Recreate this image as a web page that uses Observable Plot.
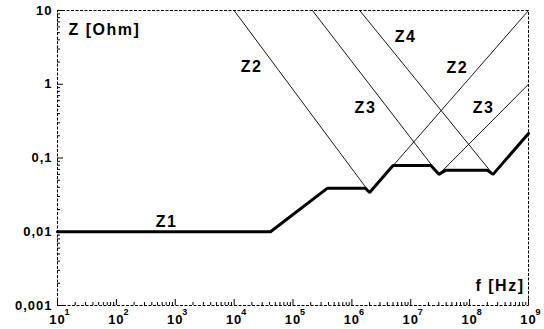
<!DOCTYPE html>
<html><head><meta charset="utf-8">
<script src="https://cdn.jsdelivr.net/npm/d3@7"></script>
<script src="https://cdn.jsdelivr.net/npm/@observablehq/plot@0.6"></script>
<style>
body{margin:0;background:#fff;}
svg text{letter-spacing:1px;}
svg g.biglabel text{letter-spacing:1.5px;}
</style></head><body><div id="chart"></div>
<script>
// Resulting total impedance (thick line)
const totalFreq = [10, 4.15e4, 3.85e5, 1.7e6, 2.0e6, 5.0e6, 2.2e7, 3.0e7, 3.9e7, 2.0e8, 2.5e8, 1e9];
const totalZ    = [0.01, 0.01, 0.039, 0.039, 0.034, 0.079, 0.079, 0.06, 0.068, 0.068, 0.06, 0.215];
// Individual capacitor branches (thin lines)
const z2Freq = [1e4, 2.0e6, 1e9];
const z2Z    = [10, 0.034, 10];
const z3Freq = [2.14e5, 3.0e7, 1e9];
const z3Z    = [10, 0.06, 1];
const z4Freq = [1.36e6, 2.5e8, 1e9];
const z4Z    = [10, 0.06, 0.215];
// Curve labels
const curveNames     = ["Z1", "Z2", "Z4", "Z2", "Z3", "Z3"];
const curveLabelFreq = [710, 1.97e4, 8.15e6, 6.2e7, 1.7e6, 1.72e8];
const curveLabelZ    = [0.0138, 1.74, 4.43, 1.69, 0.484, 0.484];
// Axes
const xTicks = [1e1, 1e2, 1e3, 1e4, 1e5, 1e6, 1e7, 1e8, 1e9];
const xExponents = ["1", "2", "3", "4", "5", "6", "7", "8", "9"];
const yTicks = [0.001, 0.01, 0.1, 1, 10];
const yTickLabels = ["0,001", "0,01", "0,1", "1", "10"];
const yTitle = "Z [Ohm]";
const xTitle = "f [Hz]";

const minorOf = (majors) => majors.slice(0, -1).flatMap(m => [2,3,4,5,6,7,8,9].map(k => k * m));
const xMinor = minorOf(xTicks);
const yMinor = minorOf(yTicks);

const toRows = (fs, zs) => fs.map((f, i) => ({f, z: zs[i]}));
const total = toRows(totalFreq, totalZ);
const z2 = toRows(z2Freq, z2Z);
const z3 = toRows(z3Freq, z3Z);
const z4 = toRows(z4Freq, z4Z);
const labels = curveNames.map((n, i) => ({n, f: curveLabelFreq[i], z: curveLabelZ[i]}));
const xLab = xTicks.map((t, i) => ({t, e: xExponents[i]}));
const yLab = yTicks.map((t, i) => ({t, s: yTickLabels[i]}));

const font = "'Liberation Sans', Arial, Helvetica, sans-serif";
const noText = () => "";

const chart = Plot.plot({
  width: 544, height: 329,
  marginLeft: 57, marginRight: 16, marginTop: 10, marginBottom: 24,
  x: {type: "log", domain: [10, 1e9]},
  y: {type: "log", domain: [0.001, 10]},
  style: {fontFamily: font, fontWeight: "bold", fontSize: "13px", background: "#fff", color: "#000"},
  marks: [
    Plot.frame({stroke: "#000", strokeWidth: 1, strokeDasharray: "3,1.5"}),
    Plot.axisX(xTicks, {tickSize: -6, tickFormat: noText, label: null, stroke: "#000"}),
    Plot.axisX(xMinor, {tickSize: -3, tickFormat: noText, label: null, stroke: "#000"}),
    Plot.axisY(yTicks, {tickSize: -6, tickFormat: noText, label: null, stroke: "#000"}),
    Plot.axisY(yMinor, {tickSize: -3, tickFormat: noText, label: null, stroke: "#000"}),
    Plot.line(z2, {x: "f", y: "z", stroke: "#000", strokeWidth: 0.9}),
    Plot.line(z3, {x: "f", y: "z", stroke: "#000", strokeWidth: 0.9}),
    Plot.line(z4, {x: "f", y: "z", stroke: "#000", strokeWidth: 0.9}),
    Plot.line(total, {x: "f", y: "z", stroke: "#000", strokeWidth: 3, strokeLinejoin: "miter"}),
    Plot.text(labels, {x: "f", y: "z", text: "n", fontSize: 16, fontWeight: "bold", fill: "#000", className: "biglabel"}),
    Plot.text([yTitle], {frameAnchor: "top-left", textAnchor: "start", dx: 11, dy: 13, fontSize: 16, fontWeight: "bold", fill: "#000", className: "biglabel"}),
    Plot.text([xTitle], {frameAnchor: "bottom-right", textAnchor: "end", dx: -4, dy: -15, fontSize: 16, fontWeight: "bold", fill: "#000", className: "biglabel"}),
    Plot.text(yLab, {y: "t", text: "s", frameAnchor: "left", textAnchor: "end", dx: -5, fontSize: 13, fontWeight: "bold", fill: "#000"}),
    Plot.text(xLab, {x: "t", text: () => "10", frameAnchor: "bottom", dy: 18, fontSize: 13, fontWeight: "bold", fill: "#000"}),
    Plot.text(xLab, {x: "t", text: "e", frameAnchor: "bottom", textAnchor: "start", dx: 7, dy: 9, fontSize: 9, fontWeight: "bold", fill: "#000"})
  ]
});
document.getElementById("chart").appendChild(chart);
</script></body></html>
